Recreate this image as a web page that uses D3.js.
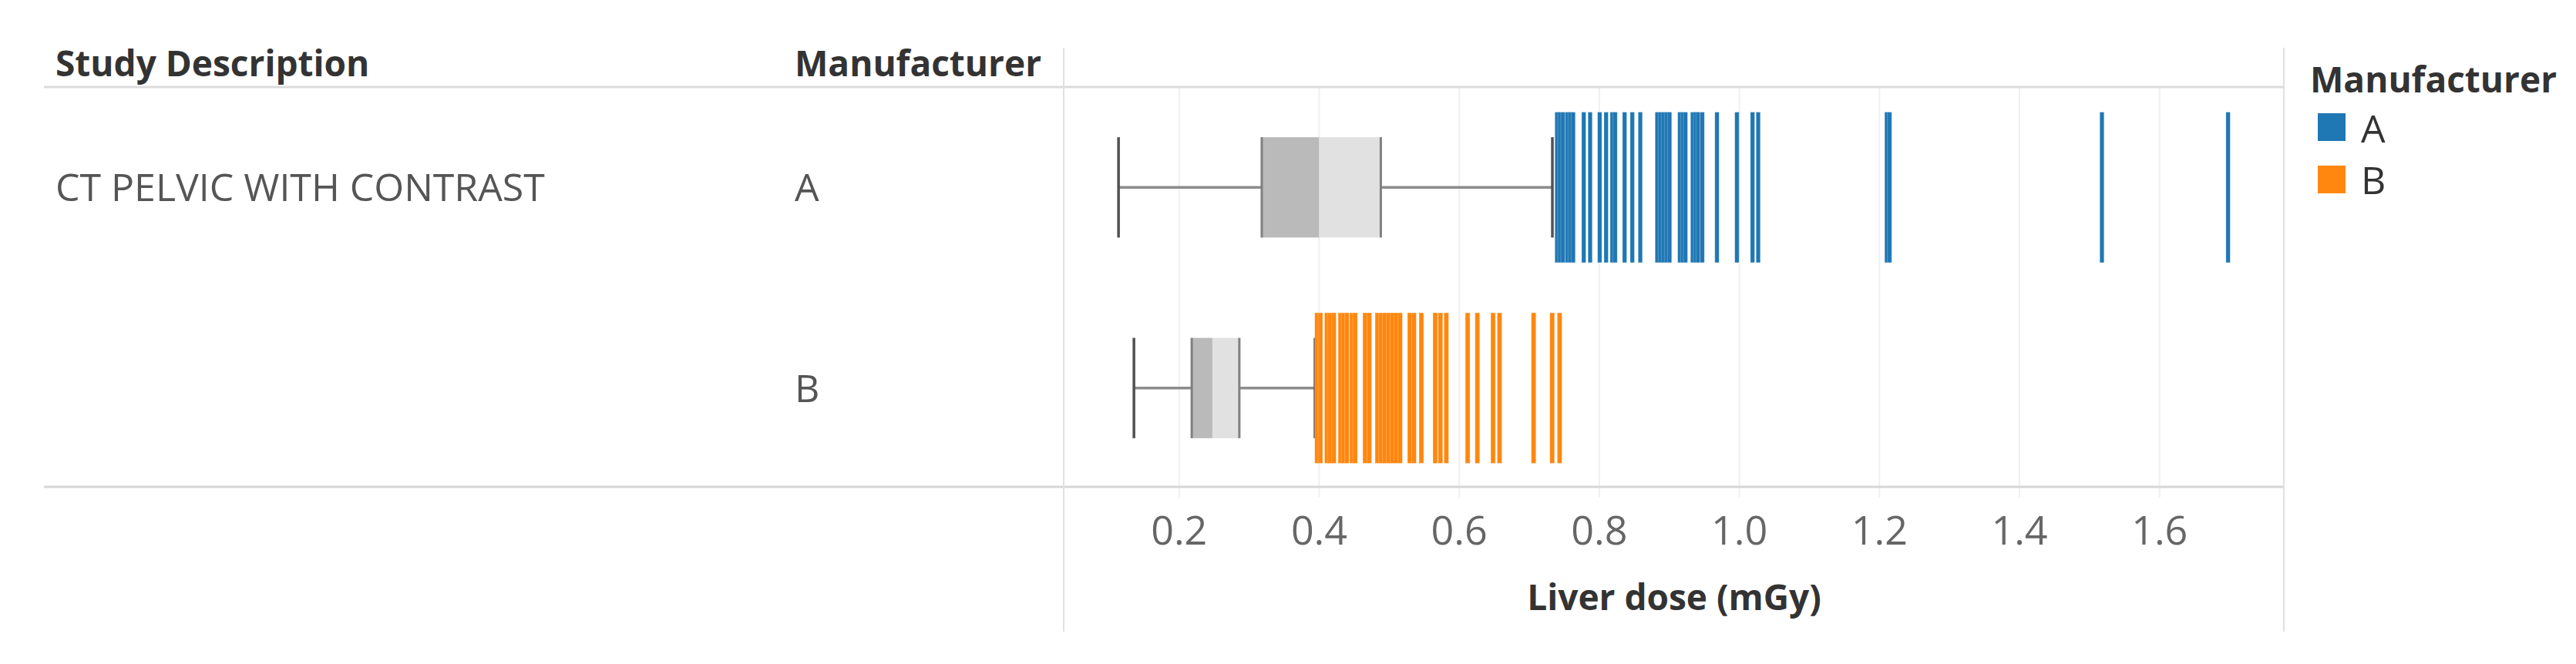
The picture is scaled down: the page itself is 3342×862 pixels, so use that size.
<!DOCTYPE html>
<meta charset="utf-8">
<script src="https://d3js.org/d3.v7.min.js"></script>
<style>
  body { margin: 0; background: #fff; }
  text { font-family: "Open Sans", "Noto Sans", sans-serif; }
</style>
<div id="chart"></div>
<script>

// data
var studyDescription = "CT PELVIC WITH CONTRAST";
var manufacturers = ["A", "B"];
var colors = ["#1f77b4", "#ff870f"];
var tickValues = [0.2, 0.4, 0.6, 0.8, 1.0, 1.2, 1.4, 1.6];

// [lower whisker, Q1, median, Q3, upper whisker]
var boxA = [0.1135, 0.318, 0.400, 0.488, 0.733];
var boxB = [0.1355, 0.218, 0.2475, 0.286, 0.394];

// marks drawn beyond the whiskers
var outliersA = [0.7396, 0.7437, 0.7481, 0.7543, 0.7583, 0.7627, 0.7778, 0.7869,
  0.8006, 0.8097, 0.8185, 0.8226, 0.8361, 0.8471, 0.8585, 0.8827, 0.8871, 0.8915,
  0.8959, 0.9003, 0.915, 0.919, 0.923, 0.9333, 0.9374, 0.941, 0.947, 0.968,
  0.9965, 1.0188, 1.0269, 1.2105, 1.2145, 1.5177, 1.6978];
var outliersB = [0.397, 0.4017, 0.411, 0.4157, 0.4209, 0.4304, 0.4348, 0.4396,
  0.4469, 0.4513, 0.4656, 0.4715, 0.4832, 0.4883, 0.4935, 0.499, 0.5045, 0.51,
  0.5155, 0.5294, 0.5353, 0.5459, 0.5657, 0.5731, 0.5815, 0.612, 0.6259, 0.6483,
  0.6575, 0.7062, 0.7327, 0.7433];

var boxes = [boxA, boxB];
var outliers = [outliersA, outliersB];
var markWidths = [5.5, 6];

var width = 3342,
    height = 862;

var plotLeft = 1381, plotRight = 2963;
var headerY = 113, bottomY = 632;

var svg = d3.select("#chart")
  .append("svg")
    .attr("width", width)
    .attr("height", height);

var x = d3.scaleLinear()
  .domain([0.0363, 1.7775])
  .range([plotLeft, plotRight]);

var y = d3.scaleBand()
  .domain(manufacturers)
  .range([headerY, 634]);

var color = d3.scaleOrdinal()
  .domain(manufacturers)
  .range(colors);

// gridlines (continue a bit below the bottom rule like tick marks)
svg.selectAll(".grid")
  .data(tickValues)
  .enter()
  .append("line")
    .attr("x1", function(d) { return x(d); })
    .attr("x2", function(d) { return x(d); })
    .attr("y1", headerY)
    .attr("y2", bottomY + 14)
    .attr("stroke", "#f0f0f0")
    .attr("stroke-width", 2);

// table rules
svg.append("line")
  .attr("x1", 57).attr("x2", plotRight)
  .attr("y1", headerY).attr("y2", headerY)
  .attr("stroke", "#dcdcdc").attr("stroke-width", 3);

svg.append("line")
  .attr("x1", 57).attr("x2", plotRight)
  .attr("y1", bottomY).attr("y2", bottomY)
  .attr("stroke", "#d6d6d6").attr("stroke-width", 3);

[plotLeft - 1, plotRight].forEach(function(px) {
  svg.append("line")
    .attr("x1", px).attr("x2", px)
    .attr("y1", 62).attr("y2", 820)
    .attr("stroke", "#e0e0e0").attr("stroke-width", 2);
});

// headers
svg.append("text")
  .attr("x", 72).attr("y", 99)
  .style("font-size", "46px").style("font-weight", "bold")
  .attr("fill", "#333")
  .text("Study Description");

svg.append("text")
  .attr("x", 1031).attr("y", 99)
  .style("font-size", "46px").style("font-weight", "bold")
  .attr("fill", "#333")
  .text("Manufacturer");

// row labels
svg.append("text")
  .attr("x", 72)
  .attr("y", y("A") + y.bandwidth() / 2 + 18)
  .style("font-size", "50px")
  .attr("fill", "#555")
  .text(studyDescription);

svg.selectAll(".rowlabel")
  .data(manufacturers)
  .enter()
  .append("text")
    .attr("x", 1031)
    .attr("y", function(d) { return y(d) + y.bandwidth() / 2 + 18; })
    .style("font-size", "50px")
    .attr("fill", "#555")
    .text(function(d) { return d; });

// box plots
var boxH = y.bandwidth() * 0.5;
manufacturers.forEach(function(m, i) {
  var b = boxes[i];
  var cy = y(m) + y.bandwidth() / 2;
  var g = svg.append("g");

  g.append("line")
    .attr("x1", x(b[0])).attr("x2", x(b[1]))
    .attr("y1", cy).attr("y2", cy)
    .attr("stroke", "#8c8c8c").attr("stroke-width", 3.5);
  g.append("line")
    .attr("x1", x(b[3])).attr("x2", x(b[4]))
    .attr("y1", cy).attr("y2", cy)
    .attr("stroke", "#8c8c8c").attr("stroke-width", 3.5);

  g.append("rect")
    .attr("x", x(b[1])).attr("y", cy - boxH / 2)
    .attr("width", x(b[2]) - x(b[1])).attr("height", boxH)
    .attr("fill", "#bababa");
  g.append("rect")
    .attr("x", x(b[2])).attr("y", cy - boxH / 2)
    .attr("width", x(b[3]) - x(b[2])).attr("height", boxH)
    .attr("fill", "#e1e1e1");

  [b[1], b[3]].forEach(function(v) {
    g.append("line")
      .attr("x1", x(v)).attr("x2", x(v))
      .attr("y1", cy - boxH / 2).attr("y2", cy + boxH / 2)
      .attr("stroke", "#808080").attr("stroke-width", 3);
  });
  [b[0], b[4]].forEach(function(v) {
    g.append("line")
      .attr("x1", x(v)).attr("x2", x(v))
      .attr("y1", cy - boxH / 2).attr("y2", cy + boxH / 2)
      .attr("stroke", "#505050").attr("stroke-width", 3.5);
  });
});

// underlying marks (outliers)
var markH = y.bandwidth() * 0.75;
manufacturers.forEach(function(m, i) {
  var cy = y(m) + y.bandwidth() / 2;
  var w = markWidths[i];
  svg.selectAll(".mark" + m)
    .data(outliers[i])
    .enter()
    .append("rect")
      .attr("x", function(d) { return x(d) - w / 2; })
      .attr("y", cy - markH / 2)
      .attr("width", w)
      .attr("height", markH)
      .attr("fill", color(m))
      .attr("stroke", "#fff")
      .attr("stroke-opacity", 0.3)
      .attr("stroke-width", 0.8);
});

// x axis labels
svg.selectAll(".tick")
  .data(tickValues)
  .enter()
  .append("text")
    .attr("x", function(d) { return x(d); })
    .attr("y", 707)
    .attr("text-anchor", "middle")
    .style("font-size", "52px")
    .attr("fill", "#666")
    .text(function(d) { return d3.format(".1f")(d); });

svg.append("text")
  .attr("x", (plotLeft + plotRight) / 2)
  .attr("y", 792)
  .attr("text-anchor", "middle")
  .style("font-size", "46px").style("font-weight", "bold")
  .attr("fill", "#333")
  .text("Liver dose (mGy)");

// legend
var legend = svg.append("g");
legend.append("text")
  .attr("x", 2997).attr("y", 120)
  .style("font-size", "46px").style("font-weight", "bold")
  .attr("fill", "#333")
  .text("Manufacturer");

manufacturers.forEach(function(m, i) {
  legend.append("rect")
    .attr("x", 3007).attr("y", 147 + i * 68)
    .attr("width", 36).attr("height", 36)
    .attr("fill", color(m));
  legend.append("text")
    .attr("x", 3063).attr("y", 185 + i * 67)
    .style("font-size", "50px")
    .attr("fill", "#333")
    .text(m);
});

</script>
